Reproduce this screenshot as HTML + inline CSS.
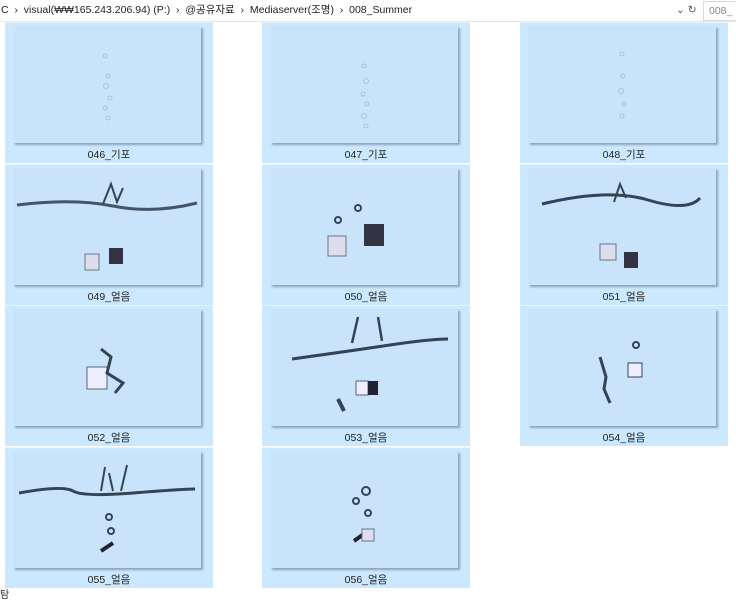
<!DOCTYPE html>
<html><head><meta charset="utf-8"><style>
body{margin:0;width:736px;height:592px;overflow:hidden;background:#fff;font-family:"Liberation Sans","Noto Sans CJK KR",sans-serif;position:relative}
.bar{position:absolute;left:0;top:0;width:736px;height:21px;background:#fff;border-bottom:1px solid #e5e5e5;font-size:10.5px;color:#222;line-height:21px}
.tile{position:absolute;width:208px;height:140px;background:#cce8ff;border-top:1px solid #e8f4ff}
.img{position:absolute;left:8px;top:3px;width:188px;height:117px;background:#c8e3fa;box-shadow:2px 2px 2px rgba(60,80,100,.45)}
.lab{position:absolute;left:0;top:124px;width:100%;text-align:center;font-size:10.5px;color:#222}
svg{position:absolute;left:0;top:0}
</style></head><body>
<div class="bar"><span style="position:absolute;left:1px">C &nbsp;›&nbsp; visual(₩₩165.243.206.94) (P:) &nbsp;›&nbsp; @공유자료 &nbsp;›&nbsp; Mediaserver(조명) &nbsp;›&nbsp; 008_Summer</span>
<span style="position:absolute;left:676px;color:#555">⌄ ↻</span>
<div style="position:absolute;left:703px;top:1px;width:40px;height:18px;border:1px solid #d9d9d9;line-height:18px;color:#888;padding-left:5px">008_</div></div>

<!-- row1 -->
<div class="tile" style="left:5px;top:22px"><div class="img"><svg width="188" height="117"><g fill="none" stroke="#a9c4da" stroke-width="1"><circle cx="92" cy="30" r="2"/><circle cx="95" cy="50" r="2"/><circle cx="93" cy="60" r="2.5"/><circle cx="97" cy="72" r="2"/><circle cx="92" cy="82" r="2"/><circle cx="95" cy="92" r="2"/></g></svg></div><div class="lab">046_기포</div></div>
<div class="tile" style="left:262px;top:22px"><div class="img"><svg width="188" height="117"><g fill="none" stroke="#a9c4da"><circle cx="94" cy="40" r="2"/><circle cx="96" cy="55" r="2.5"/><circle cx="93" cy="68" r="2"/><circle cx="97" cy="78" r="2"/><circle cx="94" cy="90" r="2.5"/><circle cx="96" cy="100" r="2"/></g></svg></div><div class="lab">047_기포</div></div>
<div class="tile" style="left:520px;top:22px"><div class="img"><svg width="188" height="117"><g fill="none" stroke="#a9c4da"><circle cx="94" cy="28" r="2"/><circle cx="95" cy="50" r="2"/><circle cx="93" cy="65" r="2.5"/><circle cx="96" cy="78" r="2"/><circle cx="94" cy="90" r="2"/></g></svg></div><div class="lab">048_기포</div></div>

<!-- row2 -->
<div class="tile" style="left:5px;top:164px"><div class="img"><svg width="188" height="117"><path d="M4 37 Q60 30 100 38 T184 35" stroke="#456" stroke-width="3" fill="none"/><path d="M90 36 l8 -20 l6 18 l6 -14" stroke="#345" stroke-width="2" fill="none"/><rect x="72" y="86" width="14" height="16" fill="#dde" stroke="#678"/><rect x="96" y="80" width="14" height="16" fill="#334"/></svg></div><div class="lab">049_얼음</div></div>
<div class="tile" style="left:262px;top:164px"><div class="img"><svg width="188" height="117"><rect x="58" y="68" width="18" height="20" fill="#dde" stroke="#678"/><rect x="94" y="56" width="20" height="22" fill="#334"/><circle cx="88" cy="40" r="3" fill="none" stroke="#345" stroke-width="2"/><circle cx="68" cy="52" r="3" fill="none" stroke="#345" stroke-width="2"/></svg></div><div class="lab">050_얼음</div></div>
<div class="tile" style="left:520px;top:164px"><div class="img"><svg width="188" height="117"><path d="M14 36 Q80 20 120 32 T172 30" stroke="#345" stroke-width="3" fill="none"/><path d="M86 34 l6 -18 l6 14" stroke="#345" stroke-width="2" fill="none"/><rect x="72" y="76" width="16" height="16" fill="#dde" stroke="#678"/><rect x="96" y="84" width="14" height="16" fill="#334"/></svg></div><div class="lab">051_얼음</div></div>

<!-- row3 -->
<div class="tile" style="left:5px;top:305px"><div class="img"><svg width="188" height="117"><rect x="74" y="58" width="20" height="22" fill="#eef" stroke="#567"/><path d="M88 40 l10 8 l-4 16 l16 10 l-8 10" stroke="#345" stroke-width="3" fill="none"/></svg></div><div class="lab">052_얼음</div></div>
<div class="tile" style="left:262px;top:305px"><div class="img"><svg width="188" height="117"><path d="M22 50 Q80 42 120 36 T178 30" stroke="#345" stroke-width="3" fill="none"/><path d="M82 34 l6 -26 M112 32 l-4 -24" stroke="#345" stroke-width="2.5"/><rect x="86" y="72" width="12" height="14" fill="#eef" stroke="#567"/><rect x="98" y="72" width="10" height="14" fill="#223"/><path d="M68 90 l6 12" stroke="#345" stroke-width="4"/></svg></div><div class="lab">053_얼음</div></div>
<div class="tile" style="left:520px;top:305px"><div class="img"><svg width="188" height="117"><rect x="100" y="54" width="14" height="14" fill="#eef" stroke="#345"/><circle cx="108" cy="36" r="3" fill="none" stroke="#345" stroke-width="2"/><path d="M72 48 l6 20 l-2 12 l6 14" stroke="#345" stroke-width="3" fill="none"/></svg></div><div class="lab">054_얼음</div></div>

<!-- row4 -->
<div class="tile" style="left:5px;top:447px"><div class="img"><svg width="188" height="117"><path d="M6 42 Q50 34 60 40 T120 42 T182 38" stroke="#345" stroke-width="3" fill="none"/><path d="M88 40 l4 -24 M108 40 l6 -26 M100 40 l-4 -18" stroke="#345" stroke-width="2"/><circle cx="96" cy="66" r="3" fill="none" stroke="#345" stroke-width="2"/><circle cx="98" cy="80" r="3" fill="none" stroke="#345" stroke-width="2"/><path d="M88 100 l12 -8" stroke="#223" stroke-width="4"/></svg></div><div class="lab">055_얼음</div></div>
<div class="tile" style="left:262px;top:447px"><div class="img"><svg width="188" height="117"><circle cx="96" cy="40" r="4" fill="none" stroke="#345" stroke-width="2"/><circle cx="86" cy="50" r="3" fill="none" stroke="#345" stroke-width="2"/><circle cx="98" cy="62" r="3" fill="none" stroke="#345" stroke-width="2"/><path d="M84 90 l14 -10" stroke="#223" stroke-width="4"/><rect x="92" y="78" width="12" height="12" fill="#dde" stroke="#678"/></svg></div><div class="lab">056_얼음</div></div>
<div style="position:absolute;left:0;top:586px;font-size:10px;color:#333">탐</div>
</body></html>
